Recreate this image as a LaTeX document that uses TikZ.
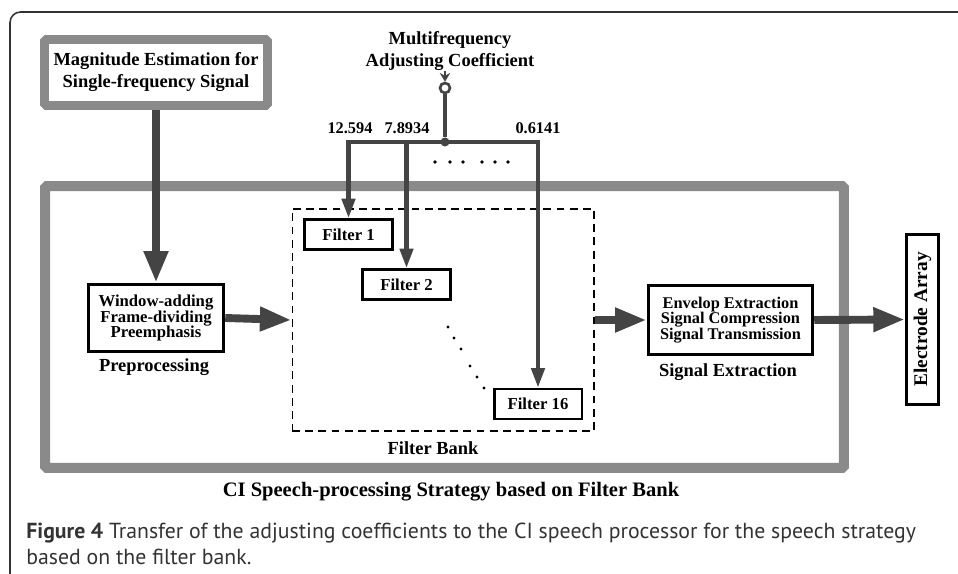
\documentclass[tikz,border=0pt]{standalone}
\usepackage{fontspec}
\setmainfont{Liberation Serif}
\newfontfamily\capfont{PT Sans}
\usepackage{tikz}
\usetikzlibrary{arrows.meta}
\definecolor{framegray}{RGB}{138,138,138}
\definecolor{arrowgray}{RGB}{68,68,68}
\definecolor{capgray}{RGB}{51,51,51}

\tikzset{
  blockbox/.style={draw=black, line width=2pt, fill=white, align=center, inner sep=1pt,
    font=\bfseries\fontsize{9.5}{9}\selectfont},
  filterbox/.style={draw=black, line width=1.7pt, fill=white, minimum width=1.76cm,
    minimum height=0.6cm, inner sep=0pt, font=\bfseries\fontsize{9.5}{11}\selectfont},
  bigarrow/.style={draw=arrowgray, line width=4.5pt, -{Triangle[width=13pt,length=18pt]}},
  coefarrow/.style={draw=arrowgray, line width=2.3pt, -{Triangle[width=7.5pt,length=11pt]}},
  lbl/.style={font=\bfseries\fontsize{10.5}{12.5}\selectfont, align=center},
  numlbl/.style={font=\bfseries\fontsize{9.3}{11}\selectfont},
}

\begin{document}
\begin{tikzpicture}[x=0.02cm, y=-0.02cm]
\useasboundingbox (0,0) rectangle (958,574);

% outer frame of the figure
\draw[capgray, line width=0.9pt, rounded corners=6pt] (10,590) -- (10,12) -- (975,12);

% CI strategy frame
\node[draw=framegray, line width=5.7pt, rounded corners=1pt, minimum width=15.98cm,
  minimum height=5.64cm] (frame) at (444.5,327) {};
\node[font=\bfseries\fontsize{11.7}{13}\selectfont] (cilbl) at (451,492)
  {CI Speech-processing Strategy based on Filter Bank};

% magnitude estimation
\node[draw=framegray, line width=5pt, fill=white, rounded corners=1pt, minimum width=4.46cm,
  minimum height=1.32cm, lbl] (magbox) at (156,72.5)
  {Magnitude Estimation for\\Single-frequency Signal};

% preprocessing
\node[blockbox, minimum width=2.7cm, minimum height=1.34cm] (winbox) at (156,318)
  {Window-adding\\Frame-dividing\\Preemphasis};
\node[lbl] (prelbl) at (154,367) {Preprocessing};

% filter bank
\node[draw=black, line width=0.6pt, dash pattern=on 4.5pt off 3pt, minimum width=6.04cm,
  minimum height=4.44cm] (bank) at (443,320) {};
\node[lbl] (banklbl) at (433,448) {Filter Bank};
\node[filterbox] (filt1) at (348.5,234.5) {Filter 1};
\node[filterbox] (filt2) at (406.5,284.5) {Filter 2};
\node[filterbox] (filt16) at (538,404) {Filter 16};
\foreach \dx/\dy in {448/327, 454/338, 461/349, 470/366, 477/377, 484/388}
  \fill (\dx,\dy) circle[radius=0.9pt];

% signal extraction
\node[blockbox, minimum width=3.28cm, minimum height=1.38cm,
  font=\bfseries\fontsize{9.3}{9}\selectfont] (sigbox) at (730.5,320)
  {Envelop Extraction\\Signal Compression\\Signal Transmission};
\node[lbl] (siglbl) at (728,372) {Signal Extraction};

% electrode array
\node[draw=black, line width=1.8pt, fill=white, minimum width=0.64cm, minimum height=3.4cm,
  inner sep=0pt] (elecbox) at (922.5,319.5) {};
\node[rotate=90, font=\bfseries\fontsize{11}{12}\selectfont] (eleclbl) at (elecbox.center)
  {Electrode Array};

% main signal path
\draw[bigarrow] (magbox.south) -- (winbox.north);
\draw[bigarrow] (winbox.east) -- (bank.west);
\draw[bigarrow] (bank.east) -- (sigbox.west);
\draw[bigarrow] (sigbox.east) -- (elecbox.west);

% adjusting coefficients
\node[lbl] (coeflbl) at (450,51) {Multifrequency\\Adjusting Coefficient};
\coordinate (termin) at (445,71);
\node[circle, draw=arrowgray, line width=1.5pt, fill=white, inner sep=0pt,
  minimum size=2mm] (term) at (445,88) {};
\draw[arrowgray, line width=1.2pt, -{Stealth[width=6pt,length=5pt]}] (termin) -- (term.north);
\node[circle, fill=arrowgray, inner sep=0pt, minimum size=1.8mm] (jn) at (445,142) {};
\draw[arrowgray, line width=2.3pt] (term) -- (jn);
\draw[coefarrow] (jn.center) -| (filt1.north);
\draw[coefarrow] (jn.center) -| (filt2.north);
\draw[coefarrow] (jn.center) -| (filt16.north);
\node[numlbl] (c1) at (350,128) {12.594};
\node[numlbl] (c2) at (407,128) {7.8934};
\node[numlbl] (c16) at (538,128) {0.6141};
\foreach \dx in {435,450,463,482,495,508}
  \fill (\dx,162) circle[radius=1pt];

% caption
\node[anchor=base west, align=left, inner sep=0pt, text=capgray,
  font=\capfont\fontsize{12.4}{14.7}\selectfont] (caption) at (26,564)
  {\textbf{Figure 4} Transfer of the adjusting coefficients to the CI speech processor for the speech strategy\\
   based on the filter bank.};
\end{tikzpicture}
\end{document}
